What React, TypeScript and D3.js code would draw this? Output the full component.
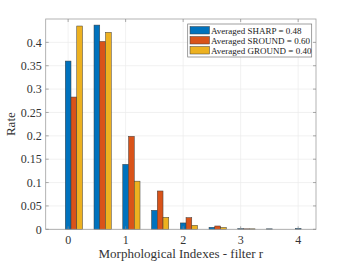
import React from "react";
import * as d3 from "d3";

const positions = [0, 0.5, 1, 1.5, 2, 2.5, 3, 3.5, 4];
const sharp = [0.36, 0.437, 0.139, 0.0407, 0.0136, 0.0043, 0.0015, 0.001, 0.002];
const sround = [0.283, 0.402, 0.199, 0.082, 0.025, 0.0071, 0.001, 0, 0];
const ground = [0.435, 0.4215, 0.103, 0.0257, 0.0086, 0.004, 0.001, 0, 0];
const seriesNames = [
  "Averaged SHARP = 0.48",
  "Averaged SROUND = 0.60",
  "Averaged GROUND = 0.40",
];
const colors = ["#0072BD", "#D95319", "#EDB120"];
const yTicks = [0, 0.05, 0.1, 0.15, 0.2, 0.25, 0.3, 0.35, 0.4];
const xTicks = [0, 1, 2, 3, 4];

const W = 349;
const H = 262;
const m = { left: 45.7, right: 316, top: 19, bottom: 229.3 };
const font = "'Liberation Serif', 'Times New Roman', serif";

export default function App() {
  const x = d3.scaleLinear().domain([-0.39, 4.31]).range([m.left, m.right]);
  const y = d3.scaleLinear().domain([0, 0.45]).range([m.bottom, m.top]);
  const barW = x(0.1) - x(0);
  const series = [sharp, sround, ground];
  const tickLen = 3;

  return (
    <svg
      width={W}
      height={H}
      style={{ position: "absolute", left: 0, top: 0, background: "#fff" }}
    >
      {/* grid */}
      {yTicks.map((t) => (
        <line key={"gy" + t} x1={m.left} x2={m.right} y1={y(t)} y2={y(t)} stroke="#ebebeb" strokeWidth={0.7} />
      ))}
      {xTicks.map((t) => (
        <line key={"gx" + t} x1={x(t)} x2={x(t)} y1={m.top} y2={m.bottom} stroke="#ebebeb" strokeWidth={0.7} />
      ))}

      {/* bars */}
      {series.map((s, si) =>
        s.map((v, i) =>
          v > 0 ? (
            <rect
              key={si + "-" + i}
              x={x(positions[i]) - barW / 2 + si * barW}
              y={y(v)}
              width={barW}
              height={y(0) - y(v)}
              fill={colors[si]}
              stroke="#3c3c3c"
              strokeWidth={0.5}
            />
          ) : null
        )
      )}

      {/* box */}
      <rect x={m.left} y={m.top} width={m.right - m.left} height={m.bottom - m.top} fill="none" stroke="#a0a0a0" strokeWidth={0.8} />

      {/* y ticks */}
      {yTicks.map((t) => (
        <g key={"yt" + t}>
          <line x1={m.left} x2={m.left + tickLen} y1={y(t)} y2={y(t)} stroke="#888" strokeWidth={0.7} />
          <line x1={m.right} x2={m.right - tickLen} y1={y(t)} y2={y(t)} stroke="#888" strokeWidth={0.7} />
          <text x={m.left - 4} y={y(t)} dy="0.35em" textAnchor="end" fontFamily={font} fontSize={12} fill="#333">
            {d3.format("~g")(t)}
          </text>
        </g>
      ))}

      {/* x ticks */}
      {xTicks.map((t) => (
        <g key={"xt" + t}>
          <line x1={x(t)} x2={x(t)} y1={m.bottom} y2={m.bottom - tickLen} stroke="#888" strokeWidth={0.7} />
          <line x1={x(t)} x2={x(t)} y1={m.top} y2={m.top + tickLen} stroke="#888" strokeWidth={0.7} />
          <text x={x(t)} y={m.bottom + 15} textAnchor="middle" fontFamily={font} fontSize={12} fill="#333">
            {t}
          </text>
        </g>
      ))}

      {/* axis labels */}
      <text x={(m.left + m.right) / 2} y={258} textAnchor="middle" fontFamily={font} fontSize={13} fill="#333">
        Morphological Indexes - filter r
      </text>
      <text
        transform={`translate(15,${(m.top + m.bottom) / 2}) rotate(-90)`}
        textAnchor="middle"
        fontFamily={font}
        fontSize={13}
        fill="#333"
      >
        Rate
      </text>

      {/* legend */}
      <g>
        <rect x={187.7} y={24} width={124} height={33} fill="#fff" stroke="#777" strokeWidth={0.7} />
        {seriesNames.map((n, i) => (
          <g key={n}>
            <rect x={190} y={26.5 + i * 10} width={19.5} height={7.5} fill={colors[i]} stroke="#3c3c3c" strokeWidth={0.5} />
            <text x={211} y={30.5 + i * 10} dy="0.35em" fontFamily={font} fontSize={9} fill="#222">
              {n}
            </text>
          </g>
        ))}
      </g>
    </svg>
  );
}
